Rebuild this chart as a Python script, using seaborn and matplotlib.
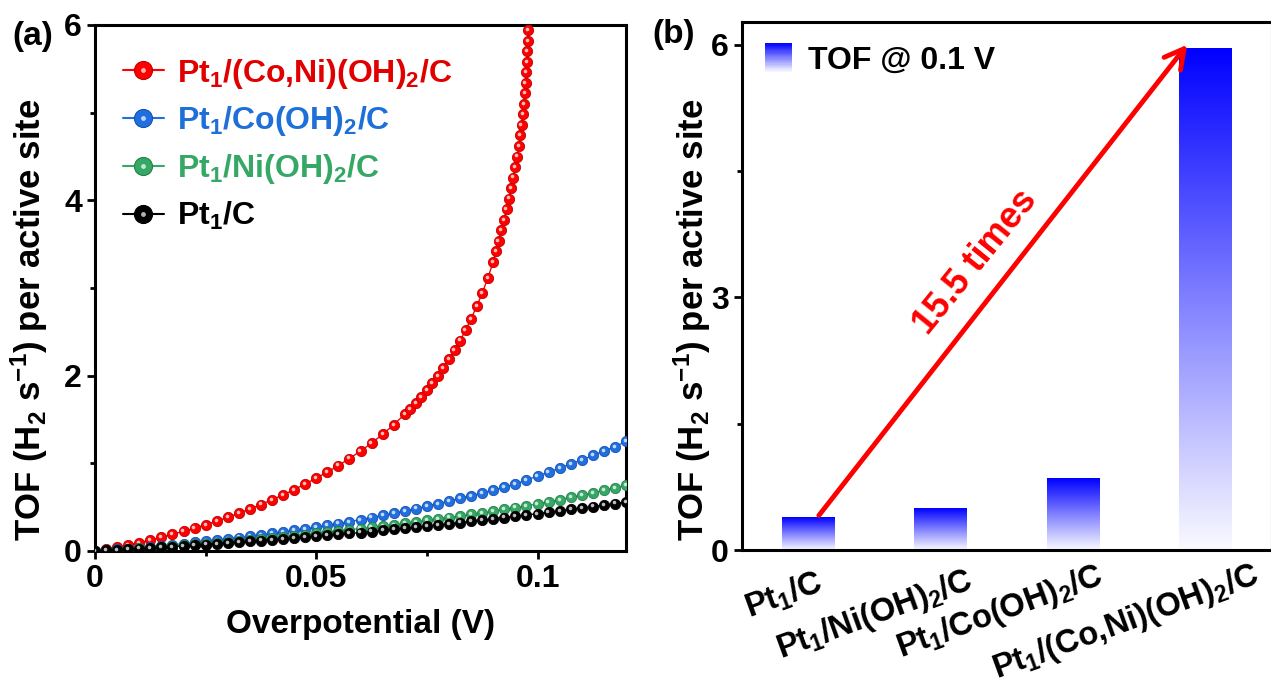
import numpy as np
import pandas as pd
import matplotlib
matplotlib.use('Agg')
import matplotlib.pyplot as plt
import seaborn as sns
from matplotlib.lines import Line2D
from matplotlib.patches import Rectangle
from matplotlib.legend_handler import HandlerTuple, HandlerBase
from matplotlib.colors import LinearSegmentedColormap
from matplotlib.ticker import MultipleLocator, FuncFormatter
from matplotlib.transforms import offset_copy, ScaledTranslation

# data
eta = [0.0, 0.0025, 0.005, 0.0075, 0.01, 0.0125, 0.015, 0.0175, 0.02, 0.0225,
       0.025, 0.0275, 0.03, 0.0325, 0.035, 0.0375, 0.04, 0.0425, 0.045, 0.0475,
       0.05, 0.0525, 0.055, 0.0575, 0.06, 0.0625, 0.065, 0.0675, 0.07, 0.0725,
       0.075, 0.0775, 0.08, 0.0825, 0.085, 0.0875, 0.09, 0.0925, 0.095, 0.0975,
       0.1, 0.1025, 0.105, 0.1075, 0.11, 0.1125, 0.115, 0.1175, 0.12]
tof_c = [0.0, 0.007, 0.014, 0.021, 0.028, 0.035, 0.042, 0.050, 0.058, 0.066,
         0.074, 0.083, 0.092, 0.101, 0.110, 0.119, 0.128, 0.138, 0.148, 0.158,
         0.168, 0.178, 0.189, 0.200, 0.211, 0.222, 0.234, 0.246, 0.258, 0.271,
         0.284, 0.297, 0.310, 0.324, 0.338, 0.352, 0.366, 0.381, 0.396, 0.411,
         0.426, 0.442, 0.458, 0.474, 0.490, 0.507, 0.524, 0.541, 0.558]
tof_ni = [0.0, 0.008, 0.016, 0.024, 0.031, 0.039, 0.047, 0.056, 0.065, 0.075,
          0.085, 0.095, 0.105, 0.116, 0.127, 0.138, 0.150, 0.162, 0.175, 0.188,
          0.201, 0.214, 0.228, 0.242, 0.256, 0.270, 0.285, 0.300, 0.316, 0.332,
          0.348, 0.365, 0.382, 0.399, 0.417, 0.435, 0.454, 0.474, 0.495, 0.516,
          0.538, 0.562, 0.586, 0.611, 0.637, 0.664, 0.692, 0.721, 0.750]
tof_co = [0.0, 0.009, 0.018, 0.028, 0.038, 0.049, 0.060, 0.072, 0.084, 0.097,
          0.110, 0.124, 0.138, 0.153, 0.168, 0.184, 0.200, 0.217, 0.235, 0.253,
          0.272, 0.292, 0.313, 0.335, 0.358, 0.382, 0.406, 0.431, 0.457, 0.484,
          0.512, 0.540, 0.569, 0.599, 0.630, 0.662, 0.695, 0.729, 0.765, 0.810,
          0.855, 0.900, 0.945, 0.995, 1.040, 1.090, 1.140, 1.190, 1.250]
eta_coni = [0.0, 0.0025, 0.005, 0.0075, 0.01, 0.0125, 0.015, 0.0175, 0.02, 0.0225,
            0.025, 0.0275, 0.03, 0.0325, 0.035, 0.0375, 0.04, 0.0425, 0.045, 0.0475,
            0.05, 0.0525, 0.055, 0.0575, 0.06, 0.0625, 0.065, 0.0675, 0.07,
            0.07125, 0.0725, 0.07375, 0.075, 0.07625, 0.0775, 0.07875, 0.08,
            0.08125, 0.0825, 0.08375, 0.085, 0.08625, 0.0875, 0.08875, 0.09,
            0.0906, 0.0912, 0.0918, 0.0924, 0.093, 0.0935, 0.094, 0.0945, 0.095,
            0.0954, 0.0958, 0.0961, 0.0964, 0.0967, 0.0969, 0.0971, 0.0973,
            0.0975, 0.0976, 0.0977, 0.0978, 0.0979, 0.098, 0.0981, 0.0982]
tof_coni = [0.0, 0.02, 0.045, 0.07, 0.095, 0.125, 0.155, 0.19, 0.225, 0.26,
            0.30, 0.34, 0.385, 0.43, 0.48, 0.53, 0.585, 0.64, 0.70, 0.765,
            0.83, 0.90, 0.975, 1.055, 1.14, 1.23, 1.33, 1.44, 1.56,
            1.62, 1.69, 1.76, 1.84, 1.92, 2.0, 2.09, 2.19,
            2.29, 2.40, 2.52, 2.65, 2.79, 2.94, 3.11, 3.30,
            3.42, 3.54, 3.66, 3.78, 3.90, 4.02, 4.14, 4.26, 4.38,
            4.50, 4.62, 4.74, 4.86, 4.98, 5.10, 5.22, 5.34,
            5.46, 5.58, 5.70, 5.82, 5.94, 6.06, 6.18, 6.30]

series_names = ['Pt$_1$/(Co,Ni)(OH)$_2$/C', 'Pt$_1$/Co(OH)$_2$/C',
                'Pt$_1$/Ni(OH)$_2$/C', 'Pt$_1$/C']
series_colors = ['#ff0000', '#1f6fe0', '#35a865', '#000000']
edge_colors = ['#c00000', '#1650b0', '#23804a', '#000000']
text_colors = ['#e00000', '#1f6fd8', '#35a865', '#000000']

bar_names = ['Pt$_1$/C', 'Pt$_1$/Ni(OH)$_2$/C', 'Pt$_1$/Co(OH)$_2$/C',
             'Pt$_1$/(Co,Ni)(OH)$_2$/C']
tof_01 = [0.384, 0.49, 0.85, 5.95]

sns.set_theme(style='ticks')
plt.rcParams['font.family'] = ['Liberation Sans', 'DejaVu Sans']
plt.rcParams['font.weight'] = 'bold'
plt.rcParams['axes.labelweight'] = 'bold'
plt.rcParams['mathtext.fontset'] = 'custom'
plt.rcParams['mathtext.rm'] = 'Liberation Sans:bold'
plt.rcParams['mathtext.it'] = 'Liberation Sans:bold'
plt.rcParams['mathtext.bf'] = 'Liberation Sans:bold'
plt.rcParams['mathtext.default'] = 'rm'
plt.rcParams['axes.edgecolor'] = 'black'
plt.rcParams['xtick.color'] = 'black'
plt.rcParams['ytick.color'] = 'black'
plt.rcParams['text.color'] = 'black'
plt.rcParams['axes.labelcolor'] = 'black'

fig = plt.figure(figsize=(12.71, 6.97), dpi=100)
ax1 = fig.add_axes([95/1271, 1-551/697, 531/1271, 526/697])
ax2 = fig.add_axes([742/1271, 1-550/697, 530/1271, 528/697])

# ---- (a) TOF curves
hl = offset_copy(ax1.transData, fig=fig, x=-0.8, y=0.8, units='points')
curves = [(eta_coni, tof_coni), (eta, tof_co), (eta, tof_ni), (eta, tof_c)]
for i, (xx, yy) in enumerate(curves):
    df = pd.DataFrame({'eta': xx, 'tof': yy})
    sns.lineplot(data=df, x='eta', y='tof', ax=ax1, color=series_colors[i], lw=1,
                 marker='o', markersize=7.4, markeredgecolor=edge_colors[i],
                 markeredgewidth=0.6, zorder=3 + i)
    ax1.plot(xx, yy, ls='none', marker='o', ms=2.6, mfc='white', mec='none',
             alpha=0.75, transform=hl, zorder=3.5 + i)

ax1.set_xlim(0, 0.12)
ax1.set_ylim(0, 6)
ax1.xaxis.set_major_locator(MultipleLocator(0.05))
ax1.xaxis.set_minor_locator(MultipleLocator(0.025))
ax1.yaxis.set_major_locator(MultipleLocator(2))
ax1.yaxis.set_minor_locator(MultipleLocator(1))
ax1.xaxis.set_major_formatter(FuncFormatter(lambda v, p: '{:g}'.format(round(v, 4))))
ax1.yaxis.set_major_formatter(FuncFormatter(lambda v, p: '{:g}'.format(v)))
ax1.set_xlabel('Overpotential (V)', fontsize=24, labelpad=11)
ax1.set_ylabel('TOF (H$_2$ s$^{-1}$) per active site', fontsize=25)
ax1.yaxis.set_label_coords(-0.085, 0.44)

handles = []
for i in range(4):
    h1 = Line2D([], [], color=series_colors[i], lw=1.5, marker='o', ms=13,
                mec=edge_colors[i], mew=0.8)
    h2 = Line2D([], [], ls='none', marker='o', ms=3.5, mfc='white', mec='none', alpha=0.7)
    handles.append((h1, h2))
leg1 = ax1.legend(handles, series_names, handler_map={tuple: HandlerTuple(ndivide=1)},
                  loc='upper left', bbox_to_anchor=(0.052, 0.94), frameon=False,
                  fontsize=23, handlelength=1.3, handletextpad=0.4,
                  labelspacing=0.43, borderpad=0, borderaxespad=0)
for t, c in zip(leg1.get_texts(), text_colors):
    t.set_color(c)

# ---- (b) bars with gradient fill
bar_cmap = LinearSegmentedColormap.from_list('bl', ['#fafaff', '#8080ff', '#0000ff'])
grad = np.linspace(0, 1, 256).reshape(-1, 1)

bar_df = pd.DataFrame({'catalyst': bar_names, 'tof': tof_01})
sns.barplot(data=bar_df, x='catalyst', y='tof', ax=ax2, width=0.4,
            color='blue', saturation=1)
for p in list(ax2.patches):
    x0, y0, w, h = p.get_x(), p.get_y(), p.get_width(), p.get_height()
    ax2.imshow(grad, extent=[x0, x0 + w, y0, y0 + h], origin='lower',
               aspect='auto', cmap=bar_cmap, zorder=2)
    p.set_visible(False)

ax2.set_xlim(-0.5, 3.5)
ax2.set_ylim(0, 6.27)
ax2.yaxis.set_major_locator(MultipleLocator(3))
ax2.yaxis.set_minor_locator(MultipleLocator(1.5))
ax2.set_xlabel('')
ax2.set_ylabel('TOF (H$_2$ s$^{-1}$) per active site', fontsize=25)
ax2.yaxis.set_label_coords(-0.054, 0.436)
ax2.set_xticks(range(len(bar_names)))
ax2.tick_params(axis='x', labelbottom=False)

# category labels, rotated and sitting a little right of each bar as in the original
label_dx = [8, 25, 23, 46]
label_dy = [0, -3, -7, -8]
for i, (name, dx, dy) in enumerate(zip(bar_names, label_dx, label_dy)):
    tr = ax2.get_xaxis_transform() + ScaledTranslation(dx / 100, -(16 + dy) / 100,
                                                       fig.dpi_scale_trans)
    ax2.text(i, 0, name, transform=tr, rotation=20, ha='right', va='top',
             rotation_mode='anchor', fontsize=23.5, fontweight='bold')

ax2.annotate('', xy=(2.86, 6.0), xytext=(0.08, 0.41),
             arrowprops=dict(arrowstyle='->,head_length=0.55,head_width=0.3',
                             color='red', lw=3.5, mutation_scale=25,
                             shrinkA=0, shrinkB=0), zorder=5)
ax2.text(1.26, 3.42, '15.5 times', rotation=51, color='red', fontsize=26,
         fontweight='bold', ha='center', va='center')


class GradHandler(HandlerBase):
    def create_artists(self, legend, orig_handle, xdescent, ydescent,
                       width, height, fontsize, trans):
        n = 24
        arts = []
        for k in range(n):
            r = Rectangle((-xdescent, -ydescent + k * height / n), width,
                          height / n + 0.3, facecolor=bar_cmap((k + 0.5) / n),
                          edgecolor='none', transform=trans)
            arts.append(r)
        return arts


leg2 = ax2.legend([Rectangle((0, 0), 1, 1)], ['TOF @ 0.1 V'],
                  handler_map={Rectangle: GradHandler()}, loc='upper left',
                  bbox_to_anchor=(0.043, 0.96), frameon=False, fontsize=23,
                  handlelength=0.85, handleheight=1.0, handletextpad=0.5,
                  borderpad=0, borderaxespad=0)

for ax in (ax1, ax2):
    for s in ax.spines.values():
        s.set_linewidth(2.2)
        s.set_visible(True)
        s.set_color('black')
    ax.tick_params(which='major', direction='out', length=6, width=2, labelsize=23)
    ax.tick_params(which='minor', direction='out', length=3.5, width=2)
    ax.tick_params(axis='y', which='both', left=True)
ax2.tick_params(axis='x', which='both', length=0)

fig.text(12/1271, 1 - 36/697, '(a)', fontsize=24, fontweight='bold', va='center', ha='left')
fig.text(652/1271, 1 - 35/697, '(b)', fontsize=24, fontweight='bold', va='center', ha='left')

fig.savefig('out.png', dpi=100)
